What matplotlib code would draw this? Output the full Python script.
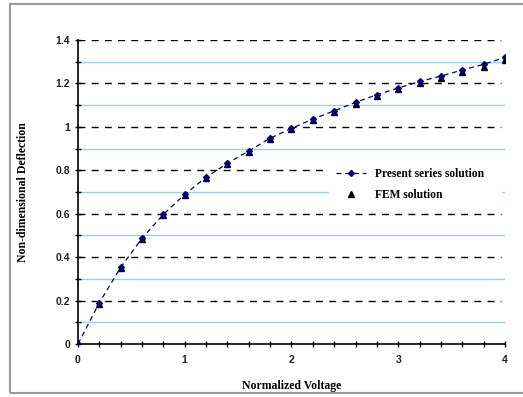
import numpy as np
import matplotlib.pyplot as plt
from matplotlib.patches import Rectangle
from matplotlib.ticker import MultipleLocator, FuncFormatter

# Normalized voltage vs non-dimensional deflection
voltage = [0.0, 0.2, 0.4, 0.6, 0.8, 1.0, 1.2, 1.4, 1.6, 1.8, 2.0,
           2.2, 2.4, 2.6, 2.8, 3.0, 3.2, 3.4, 3.6, 3.8, 4.0]
series_sol = [0.0, 0.19, 0.353, 0.487, 0.597, 0.689, 0.768, 0.832, 0.889, 0.948, 0.993,
              1.036, 1.074, 1.113, 1.148, 1.179, 1.209, 1.234, 1.262, 1.288, 1.32]
fem_sol = [0.0, 0.186, 0.349, 0.482, 0.592, 0.684, 0.763, 0.827, 0.884, 0.942, 0.988,
           1.030, 1.068, 1.107, 1.142, 1.173, 1.203, 1.226, 1.252, 1.276, 1.306]
dashed_levels = [0.2, 0.4, 0.6, 0.8, 1.0, 1.2, 1.4]
blue_levels = [0.1, 0.3, 0.5, 0.7, 0.9, 1.1, 1.3]

serif = 'Liberation Serif'
sans = 'Liberation Sans'


def short_num(v, pos):
    return ('%.1f' % v).rstrip('0').rstrip('.')


fig = plt.figure(figsize=(5.23, 3.97), dpi=100)
ax = fig.add_axes([0.1491, 0.1335, 0.8165, 0.7657])

# grid lines
for y in blue_levels:
    ax.plot([0, 4], [y, y], color='#99ccff', lw=1.0, zorder=1)
for y in dashed_levels:
    ax.plot([0, 3.96], [y, y], color='black', lw=1.0, dashes=(5, 4.5), zorder=1)

ax.plot(voltage, series_sol, color='#000080', lw=0.9, dashes=(4, 3),
        marker='D', ms=3, label='Present series solution', zorder=3)
ax.plot(voltage, fem_sol, ls='none', color='black', marker='^', ms=5,
        label='FEM solution', zorder=2)

ax.set_xlim(0, 4)
ax.set_ylim(0, 1.4)
ax.xaxis.set_major_locator(MultipleLocator(1))
ax.xaxis.set_minor_locator(MultipleLocator(0.2))
ax.yaxis.set_major_locator(MultipleLocator(0.2))
ax.yaxis.set_minor_locator(MultipleLocator(0.1))
ax.xaxis.set_major_formatter(FuncFormatter(short_num))
ax.yaxis.set_major_formatter(FuncFormatter(short_num))
ax.tick_params(which='both', direction='inout', length=4, width=1, labelsize=7.5)
ax.tick_params(axis='x', pad=6)
for lab in ax.get_xticklabels() + ax.get_yticklabels():
    lab.set_fontfamily(sans)
    lab.set_fontweight('bold')
    lab.set_color('#222222')

for s in ['top', 'right']:
    ax.spines[s].set_visible(False)
for s in ['left', 'bottom']:
    ax.spines[s].set_linewidth(1.2)

ax.set_xlabel('Normalized Voltage', fontfamily=serif, fontweight='bold', fontsize=8.5,
              labelpad=11)
ax.set_ylabel('Non-dimensional Deflection', fontfamily=serif, fontweight='bold',
              fontsize=8.5, labelpad=19)

leg = ax.legend(loc='upper left', bbox_to_anchor=(0.588, 0.603, 0.405, 0.0), mode='expand',
                frameon=True, fancybox=False, edgecolor='none', framealpha=1,
                prop={'family': serif, 'weight': 'bold', 'size': 8.3},
                handlelength=2.6, handletextpad=0.8, borderpad=0.6, labelspacing=0.8,
                borderaxespad=0)
leg.set_zorder(5)

# outer chart border
fig.patches.append(Rectangle((10 / 523, 4 / 397), 1.0, 389 / 397,
                             transform=fig.transFigure, fill=False,
                             edgecolor='#999999', lw=1.5))

fig.savefig('out.png', dpi=100)
